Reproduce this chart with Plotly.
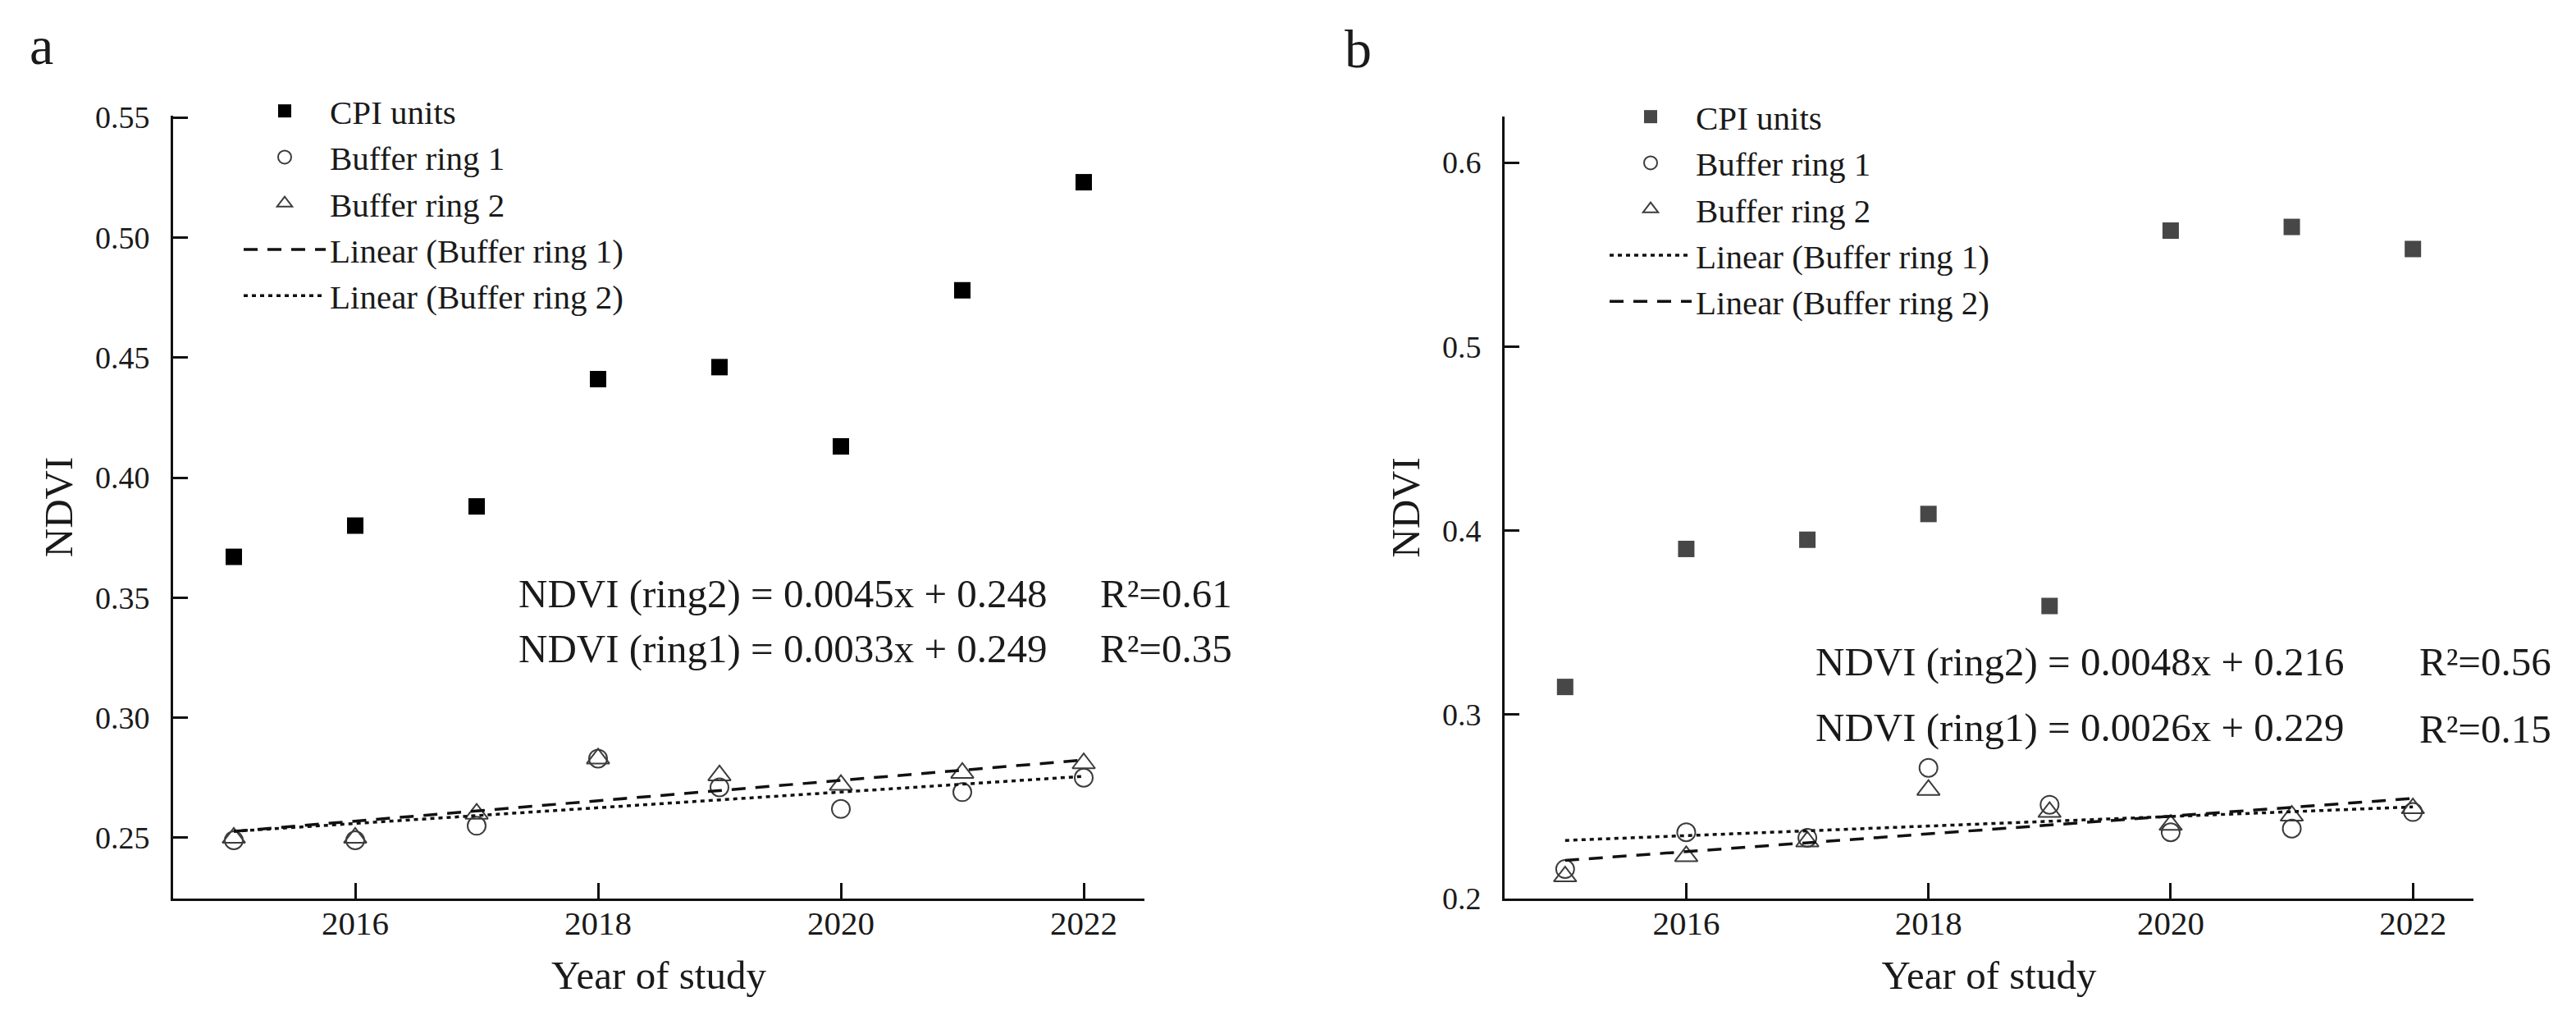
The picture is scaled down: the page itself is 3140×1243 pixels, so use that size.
import plotly.graph_objects as go

W, H = 3140, 1243
FONT = "Liberation Serif"
INK = "#1a1a1a"

# ---------------- data ----------------
years = [2015, 2016, 2017, 2018, 2019, 2020, 2021, 2022]
trend_years = [2015, 2022]
year_ticks = [2016, 2018, 2020, 2022]

a_cpi = [0.367, 0.380, 0.388, 0.441, 0.446, 0.413, 0.478, 0.523]
a_ring1 = [0.249, 0.249, 0.255, 0.283, 0.271, 0.262, 0.269, 0.275]
a_ring2 = [0.250, 0.250, 0.260, 0.283, 0.276, 0.272, 0.277, 0.281]
a_trend_dash = [0.2527, 0.2824]
a_trend_dot = [0.2527, 0.2756]

b_cpi = [0.315, 0.390, 0.395, 0.409, 0.359, 0.563, 0.565, 0.553]
b_ring1 = [0.216, 0.236, 0.233, 0.271, 0.251, 0.236, 0.238, 0.247]
b_ring2 = [0.212, 0.223, 0.231, 0.259, 0.247, 0.240, 0.245, 0.249]
b_trend_dot = [0.2316, 0.2498]
b_trend_dash = [0.2207, 0.2544]

a_eq = ["NDVI (ring2) = 0.0045x + 0.248", "NDVI (ring1) = 0.0033x + 0.249"]
a_r2 = ["R²=0.61", "R²=0.35"]
b_eq = ["NDVI (ring2) = 0.0048x + 0.216", "NDVI (ring1) = 0.0026x + 0.229"]
b_r2 = ["R²=0.56", "R²=0.15"]


def fx(p):
    return p / W


def fy(p):
    return 1 - p / H


fig = go.Figure()

OPEN_COL = "#3c3c3c"


def add_panel(xa, ya, leg, cpi, r1, r2, t1, t1dash, t2, t2dash, cpi_col):
    fig.add_trace(go.Scatter(x=years, y=cpi, mode="markers", name="CPI units",
                             marker=dict(symbol="square", size=20, color=cpi_col),
                             xaxis=xa, yaxis=ya, legend=leg))
    fig.add_trace(go.Scatter(x=years, y=r1, mode="markers", name="Buffer ring 1",
                             marker=dict(symbol="circle-open", size=22, color=OPEN_COL,
                                         line=dict(width=2, color=OPEN_COL)),
                             xaxis=xa, yaxis=ya, legend=leg))
    fig.add_trace(go.Scatter(x=years, y=r2, mode="markers", name="Buffer ring 2",
                             marker=dict(symbol="triangle-up-open", size=24, color=OPEN_COL,
                                         line=dict(width=2, color=OPEN_COL)),
                             xaxis=xa, yaxis=ya, legend=leg))
    fig.add_trace(go.Scatter(x=trend_years, y=t1, mode="lines", name="Linear (Buffer ring 1)",
                             line=dict(color="#111111", width=3.5, dash=t1dash),
                             xaxis=xa, yaxis=ya, legend=leg))
    fig.add_trace(go.Scatter(x=trend_years, y=t2, mode="lines", name="Linear (Buffer ring 2)",
                             line=dict(color="#111111", width=3.5, dash=t2dash),
                             xaxis=xa, yaxis=ya, legend=leg))


DASH = "17px,12px"
DOT = "5px,5px"

add_panel("x", "y", "legend", a_cpi, a_ring1, a_ring2, a_trend_dash, DASH, a_trend_dot, DOT, "#000000")
add_panel("x2", "y2", "legend2", b_cpi, b_ring1, b_ring2, b_trend_dot, DOT, b_trend_dash, DASH, "#474747")

xcommon = dict(range=[2014.5, 2022.5], tickvals=year_ticks, ticks="inside", ticklen=19,
               tickwidth=3, tickcolor="#111", showline=True, linewidth=3, linecolor="#111",
               showgrid=False, zeroline=False, automargin=False,
               tickfont=dict(family=FONT, size=41, color=INK), ticklabelstandoff=-8,
               title=dict(text="Year of study", font=dict(family=FONT, size=49, color=INK), standoff=24))
ycommon = dict(ticks="inside", ticklen=18, tickwidth=3, tickcolor="#111", showline=True,
               linewidth=3, linecolor="#111", showgrid=False, zeroline=False, automargin=False,
               tickfont=dict(family=FONT, size=38, color=INK), ticklabelstandoff=18,
               title=dict(text="NDVI", font=dict(family=FONT, size=49, color=INK), standoff=12))

LEGFONT = dict(family=FONT, size=41, color=INK)

fig.update_layout(
    width=W, height=H,
    margin=dict(l=0, r=0, t=0, b=0),
    paper_bgcolor="white", plot_bgcolor="white",
    font=dict(family=FONT, color=INK),
    xaxis=dict(xcommon, domain=[fx(203), fx(1387)], anchor="y"),
    yaxis=dict(ycommon, domain=[fy(1087), fy(133)], anchor="x",
               range=[0.2247, 0.5507], tickvals=[0.25, 0.30, 0.35, 0.40, 0.45, 0.50, 0.55],
               tickformat=".2f"),
    xaxis2=dict(xcommon, domain=[fx(1826), fx(3007)], anchor="y2"),
    yaxis2=dict(ycommon, domain=[fy(1087), fy(134)], anchor="x2",
                range=[0.2, 0.625], tickvals=[0.2, 0.3, 0.4, 0.5, 0.6], tickformat=".1f"),
    legend=dict(x=fx(284), y=fy(94), xanchor="left", yanchor="top", bgcolor="rgba(0,0,0,0)",
                font=LEGFONT, itemwidth=100, tracegroupgap=0),
    legend2=dict(x=fx(1949), y=fy(101), xanchor="left", yanchor="top", bgcolor="rgba(0,0,0,0)",
                 font=LEGFONT, itemwidth=100, tracegroupgap=0),
    showlegend=True,
)

ann = []
ann.append(dict(text="a", x=fx(42), y=fy(48), xref="paper", yref="paper", showarrow=False,
                font=dict(family=FONT, size=66, color=INK), xanchor="center", yanchor="middle"))
ann.append(dict(text="b", x=fx(1647), y=fy(52), xref="paper", yref="paper", showarrow=False,
                font=dict(family=FONT, size=66, color=INK), xanchor="center", yanchor="middle"))

EQFONT = dict(family=FONT, size=49, color=INK)
for txt, yy in zip(a_eq, [715, 782]):
    ann.append(dict(text=txt, x=fx(622), y=fy(yy), xref="paper", yref="paper", showarrow=False,
                    font=EQFONT, xanchor="left", yanchor="middle"))
for txt, yy in zip(a_r2, [715, 782]):
    ann.append(dict(text=txt, x=fx(1331), y=fy(yy), xref="paper", yref="paper", showarrow=False,
                    font=EQFONT, xanchor="left", yanchor="middle"))
for txt, yy in zip(b_eq, [798, 878]):
    ann.append(dict(text=txt, x=fx(2203), y=fy(yy), xref="paper", yref="paper", showarrow=False,
                    font=EQFONT, xanchor="left", yanchor="middle"))
for txt, yy in zip(b_r2, [798, 880]):
    ann.append(dict(text=txt, x=fx(2939), y=fy(yy), xref="paper", yref="paper", showarrow=False,
                    font=EQFONT, xanchor="left", yanchor="middle"))

fig.update_layout(annotations=ann)

fig.write_html("out.html")
